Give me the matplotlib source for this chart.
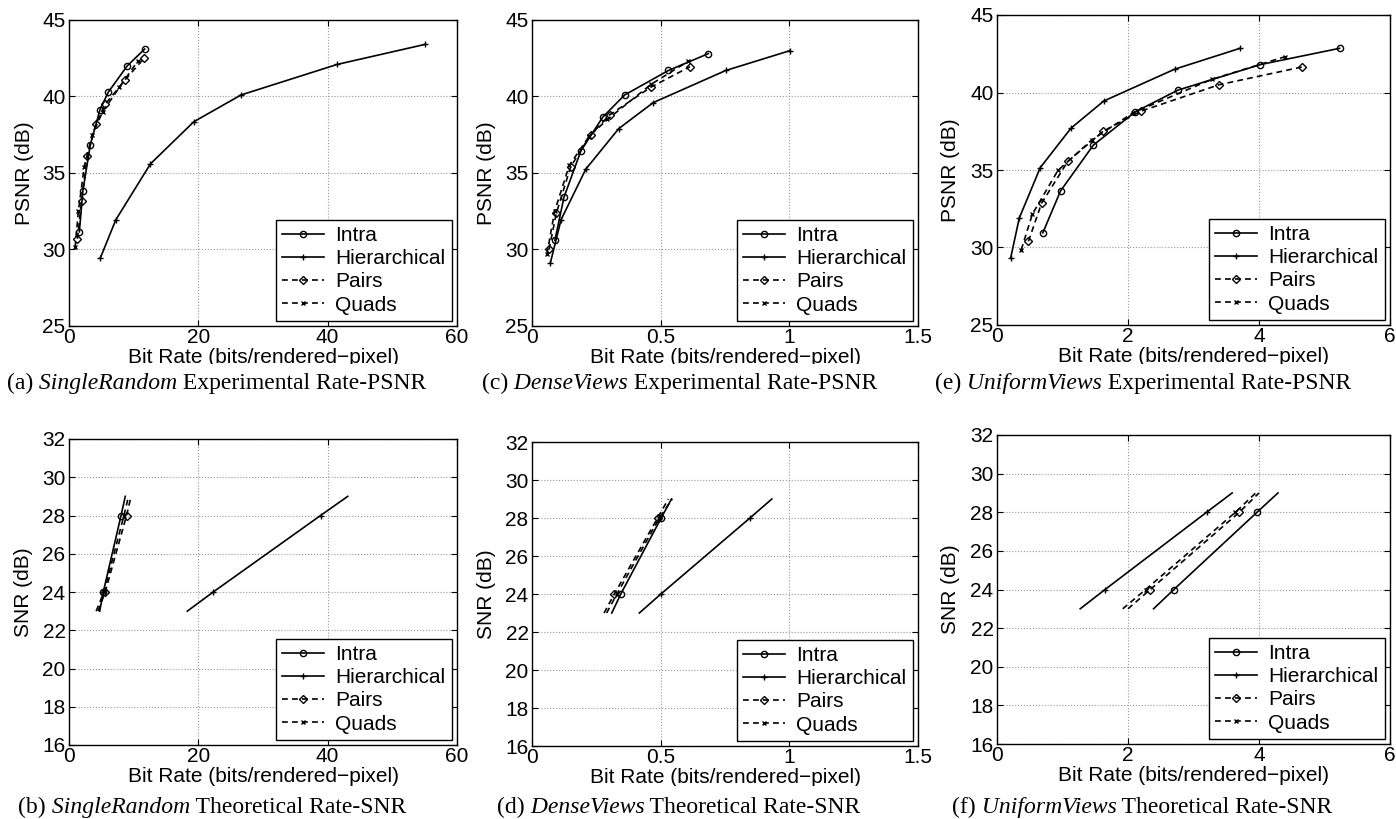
import matplotlib
matplotlib.use('Agg')
import matplotlib.pyplot as plt
from matplotlib.transforms import Bbox

plt.rcParams['font.family'] = 'Liberation Sans'
plt.rcParams['font.size'] = 15

series = ['Intra', 'Hierarchical', 'Pairs', 'Quads']

# (a) SingleRandom, experimental rate-PSNR
sr_exp_rate = {
    'Intra': [1.6, 2.15, 3.3, 4.8, 6.1, 9.0, 11.7],
    'Hierarchical': [4.85, 7.25, 12.6, 19.3, 26.6, 41.5, 55.0],
    'Pairs': [1.3, 1.95, 2.85, 4.15, 5.6, 8.7, 11.6],
    'Quads': [0.95, 1.45, 2.35, 3.6, 5.2, 7.8, 10.6],
}
sr_exp_psnr = {
    'Intra': [31.15, 33.85, 36.85, 39.15, 40.3, 42.0, 43.1],
    'Hierarchical': [29.45, 31.95, 35.6, 38.35, 40.1, 42.1, 43.4],
    'Pairs': [30.7, 33.2, 36.1, 38.2, 39.5, 41.1, 42.5],
    'Quads': [30.15, 32.5, 35.4, 37.5, 39.0, 40.6, 42.3],
}

# (c) DenseViews, experimental rate-PSNR
dv_exp_rate = {
    'Intra': [0.089, 0.124, 0.190, 0.275, 0.360, 0.530, 0.685],
    'Hierarchical': [0.071, 0.113, 0.209, 0.337, 0.471, 0.753, 1.003],
    'Pairs': [0.066, 0.095, 0.150, 0.228, 0.302, 0.461, 0.614],
    'Quads': [0.058, 0.088, 0.145, 0.222, 0.293, 0.463, 0.607],
}
dv_exp_psnr = {
    'Intra': [30.6, 33.4, 36.45, 38.65, 40.1, 41.7, 42.8],
    'Hierarchical': [29.1, 31.95, 35.25, 37.9, 39.6, 41.7, 43.0],
    'Pairs': [30.0, 32.4, 35.4, 37.5, 38.8, 40.6, 41.95],
    'Quads': [29.7, 32.5, 35.5, 37.4, 38.5, 40.8, 42.3],
}

# (e) UniformViews, experimental rate-PSNR
uv_exp_rate = {
    'Intra': [0.70, 0.97, 1.47, 2.11, 2.76, 4.02, 5.23],
    'Hierarchical': [0.21, 0.34, 0.66, 1.13, 1.63, 2.71, 3.71],
    'Pairs': [0.48, 0.68, 1.08, 1.62, 2.20, 3.39, 4.66],
    'Quads': [0.37, 0.54, 0.93, 1.45, 2.08, 3.28, 4.39],
}
uv_exp_psnr = {
    'Intra': [30.95, 33.65, 36.6, 38.75, 40.15, 41.8, 42.85],
    'Hierarchical': [29.35, 31.9, 35.15, 37.7, 39.45, 41.5, 42.85],
    'Pairs': [30.4, 32.85, 35.55, 37.5, 38.8, 40.5, 41.65],
    'Quads': [29.85, 32.15, 34.97, 36.95, 38.7, 40.85, 42.3],
}

# theoretical rate-SNR: lines drawn 23..29 dB, markers at 24 and 28 dB
theory_snr = [23, 24, 28, 29]
sr_th_rate = {
    'Intra': [4.75, 5.3, 8.05, 8.7],
    'Hierarchical': [18.3, 22.3, 38.9, 43.1],
    'Pairs': [4.5, 5.6, 8.9, 9.6],
    'Quads': [4.2, 5.4, 8.5, 9.2],
}
dv_th_rate = {
    'Intra': [0.31, 0.345, 0.502, 0.542],
    'Hierarchical': [0.417, 0.501, 0.847, 0.932],
    'Pairs': [0.28, 0.32, 0.488, 0.53],
    'Quads': [0.29, 0.33, 0.495, 0.545],
}
uv_th_rate = {
    'Intra': [2.39, 2.70, 3.97, 4.29],
    'Hierarchical': [1.27, 1.65, 3.20, 3.59],
    'Pairs': [2.0, 2.34, 3.70, 4.0],
    'Quads': [1.92, 2.27, 3.64, 3.95],
}

psnr_ticks = [25, 30, 35, 40, 45]
snr_ticks = [16, 18, 20, 22, 24, 26, 28, 30, 32]
sr_xticks = [0, 20, 40, 60]
dv_xticks = [0, 0.5, 1, 1.5]
uv_xticks = [0, 2, 4, 6]

styles = {
    'Intra': dict(ls='-', marker='o', ms=4.5),
    'Hierarchical': dict(ls='-', marker='+', ms=5),
    'Pairs': dict(ls=(0, (3.5, 2.5)), marker='D', ms=3.8),
    'Quads': dict(ls=(0, (3.5, 2.5)), marker='x', ms=3.5),
}

W, H = 1396, 819
fig = plt.figure(figsize=(W / 100, H / 100), dpi=100)


def px_rect(left, top, right, bottom):
    return [left / W, 1 - bottom / H, (right - left) / W, (bottom - top) / H]


def caption(x, y, label, name, rest):
    kw = dict(fontfamily='Liberation Serif', fontsize=17)
    t1 = fig.text(x / W, 1 - y / H, label, va='baseline', **kw)
    t2 = plt.annotate(' ' + name, xy=(1, 0), xycoords=t1, va='bottom',
                      style='italic', annotation_clip=False, **kw)
    plt.annotate(' ' + rest, xy=(1, 0), xycoords=t2, va='bottom',
                 annotation_clip=False, **kw)


def panel(rect, rates, values, xticks, yticks, ylabel, ylab_x, clip_y, markevery=None):
    ax = fig.add_axes(px_rect(*rect))
    for name in series:
        st = styles[name]
        ax.plot(rates[name], values[name] if isinstance(values, dict) else values,
                color='black', lw=1.2, ls=st['ls'], marker=st['marker'],
                ms=st['ms'], mfc='none', mec='black', mew=1.0,
                markevery=markevery, label=name)
    ax.set_xlim(xticks[0], xticks[-1])
    ax.set_ylim(yticks[0], yticks[-1])
    ax.set_xticks(xticks)
    ax.set_xticklabels([f'{t:g}' for t in xticks])
    ax.set_yticks(yticks)
    ax.grid(True, ls=':', color='0.6', lw=0.8)
    ax.tick_params(direction='in', length=4, top=True, right=True, labelsize=15)
    ax.tick_params(axis='x', pad=1.5)
    ax.tick_params(axis='y', pad=2.5)
    for s in ax.spines.values():
        s.set_linewidth(1.0)
    ax.set_xlabel('Bit Rate (bits/rendered\u2212pixel)', fontsize=15, labelpad=1)
    ax.set_ylabel(ylabel, fontsize=15)
    ax.yaxis.set_label_coords(ylab_x, 0.5)
    ax.xaxis.label.set_clip_box(Bbox([[0, H - clip_y], [W, H]]))
    ax.xaxis.label.set_clip_on(True)
    leg = ax.legend(loc='lower right', fontsize=15, frameon=True, fancybox=False,
                    edgecolor='black', framealpha=1, borderaxespad=0.25,
                    handlelength=2.0, handletextpad=0.55, labelspacing=0.2,
                    borderpad=0.3, numpoints=1)
    leg.get_frame().set_linewidth(1.0)
    return ax


panel((69, 20, 457, 326), sr_exp_rate, sr_exp_psnr, sr_xticks, psnr_ticks, 'PSNR (dB)', -0.091, 364)
panel((532, 20, 918, 326), dv_exp_rate, dv_exp_psnr, dv_xticks, psnr_ticks, 'PSNR (dB)', -0.093, 364)
panel((997, 15, 1390, 325), uv_exp_rate, uv_exp_psnr, uv_xticks, psnr_ticks, 'PSNR (dB)', -0.095, 364)
panel((69, 439, 457, 745), sr_th_rate, theory_snr, sr_xticks, snr_ticks, 'SNR (dB)', -0.092, 786, [1, 2])
panel((532, 442, 918, 746), dv_th_rate, theory_snr, dv_xticks, snr_ticks, 'SNR (dB)', -0.093, 786, [1, 2])
panel((997, 435, 1390, 744), uv_th_rate, theory_snr, uv_xticks, snr_ticks, 'SNR (dB)', -0.095, 786, [1, 2])

caption(7, 389, '(a)', 'SingleRandom', 'Experimental Rate-PSNR')
caption(482, 389, '(c)', 'DenseViews', 'Experimental Rate-PSNR')
caption(935, 389, '(e)', 'UniformViews', 'Experimental Rate-PSNR')
caption(18, 813, '(b)', 'SingleRandom', 'Theoretical Rate-SNR')
caption(497, 813, '(d)', 'DenseViews', 'Theoretical Rate-SNR')
caption(952, 813, '(f)', 'UniformViews', 'Theoretical Rate-SNR')

fig.savefig('out.png', dpi=100)
